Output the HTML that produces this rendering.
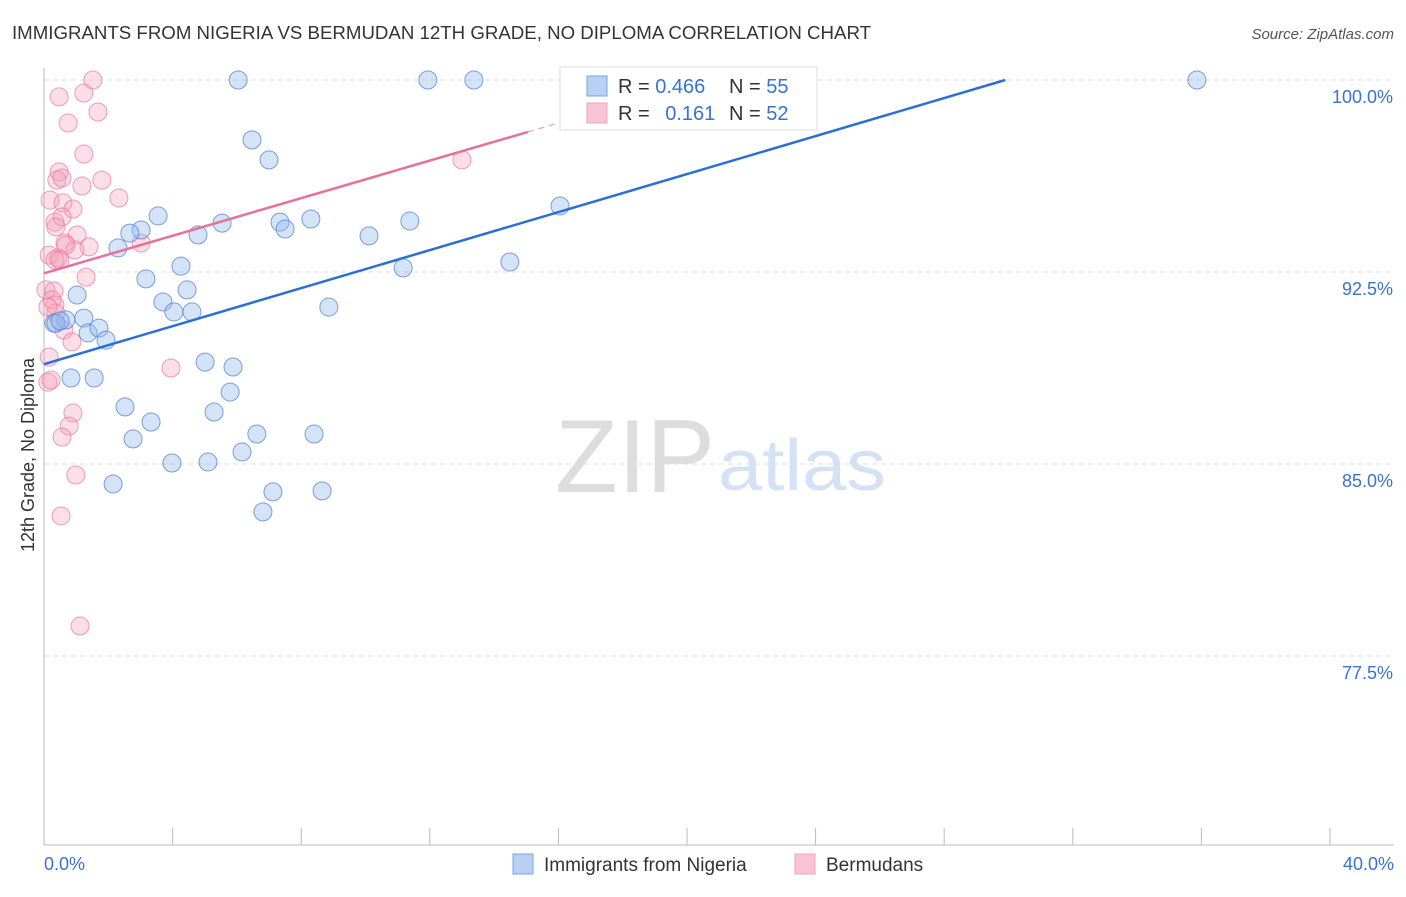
<!DOCTYPE html>
<html><head><meta charset="utf-8"><style>
body{margin:0;background:#fff;font-family:"Liberation Sans",sans-serif}
svg text{font-family:"Liberation Sans",sans-serif}
</style></head><body>
<svg id="chart" width="1406" height="892">
<text x="12" y="39" font-size="18" fill="#333" textLength="859" lengthAdjust="spacingAndGlyphs">IMMIGRANTS FROM NIGERIA VS BERMUDAN 12TH GRADE, NO DIPLOMA CORRELATION CHART</text>
<text x="1394" y="39" font-size="15" fill="#555" text-anchor="end" font-style="italic">Source: ZipAtlas.com</text>
<text x="34" y="455" font-size="18" fill="#333" text-anchor="middle" transform="rotate(-90 34 455)">12th Grade, No Diploma</text>
<g><text x="555" y="492" font-size="104" fill="#ddd" textLength="160" lengthAdjust="spacingAndGlyphs" font-family="Liberation Serif">ZIP</text><text x="718" y="490" font-size="72" fill="#d4e2f5" textLength="168" lengthAdjust="spacingAndGlyphs">atlas</text></g>
<g id="grid"></g><g id="axes"></g><g id="pts"></g><g id="lines"></g>
<g>
<rect x="560" y="67" width="257" height="63" fill="#fff" stroke="#ddd"/>
<rect x="587" y="76" width="20" height="20" fill="#b8d0f2" stroke="#7aa6e6"/>
<rect x="587" y="103" width="20" height="20" fill="#f8c4d4" stroke="#eea0b8"/>
<text x="618" y="93" font-size="20" fill="#333">R = <tspan fill="#3a72d0">0.466</tspan></text>
<text x="729" y="93" font-size="20" fill="#333">N = <tspan fill="#3a72d0">55</tspan></text>
<text x="618" y="120" font-size="20" fill="#333">R = <tspan fill="#3a72d0" dx="10">0.161</tspan></text>
<text x="729" y="120" font-size="20" fill="#333">N = <tspan fill="#3a72d0">52</tspan></text>
</g>
<g>
<rect x="513" y="854" width="20" height="20" fill="#b8d0f2" stroke="#7aa6e6"/>
<text x="544" y="871" font-size="19" fill="#333">Immigrants from Nigeria</text>
<rect x="795" y="854" width="20" height="20" fill="#f8c4d4" stroke="#eea0b8"/>
<text x="826" y="871" font-size="19" fill="#333">Bermudans</text>
</g>
</svg>
<script>
const xTicks=[0,4,8,12,16,20,24,28,32,36,40];
const yTicks=[100,92.5,85,77.5];
const yTickLabels=["100.0%","92.5%","85.0%","77.5%"];
const blueX=[6.04,11.94,13.37,16.67,35.86,6.47,7.0,3.55,5.54,7.34,8.3,7.5,3.02,2.67,4.79,11.38,10.11,2.3,16.05,4.26,11.17,14.49,3.17,3.7,4.45,1.03,4.04,4.6,8.86,0.31,0.68,1.24,1.37,1.71,1.93,5.01,5.88,0.84,1.56,5.79,2.52,5.29,3.33,2.77,6.62,8.4,6.16,3.98,5.1,2.15,7.12,8.65,6.81,0.37,0.5];
const blueY=[100,100,100,100,100,97.66,96.88,94.69,94.41,94.45,94.57,94.18,94.14,94.02,93.95,94.49,93.91,93.44,95.08,92.73,92.66,92.89,92.23,91.33,91.8,91.6,90.94,90.94,91.13,90.5,90.63,90.7,90.12,90.31,89.84,88.98,88.79,88.36,88.36,87.81,87.23,87.03,86.64,85.98,86.17,86.17,85.47,85.04,85.08,84.22,83.91,83.95,83.13,90.5,90.59];
const pinkX=[1.52,0.47,1.24,1.68,0.75,1.24,0.47,0.4,0.56,1.18,1.8,2.33,0.19,0.59,0.9,0.34,0.56,0.37,1.03,0.65,1.4,3.02,0.96,0.44,0.16,0.34,1.31,0.06,0.31,0.25,0.34,0.37,0.12,0.62,0.87,0.16,3.95,0.12,0.22,0.9,0.78,0.56,0.99,0.53,1.12,13.0,0.5,0.68];
const pinkY=[100,99.34,99.49,98.75,98.32,97.11,96.41,96.09,96.17,95.86,96.09,95.39,95.31,95.2,94.96,94.45,94.65,94.26,93.95,93.63,93.48,93.63,93.36,93.05,93.16,92.97,92.3,91.8,91.76,91.41,91.21,90.9,91.13,90.23,89.77,89.18,88.75,88.2,88.28,86.99,86.48,86.05,84.57,82.97,78.67,96.88,92.97,93.55];
const blueLine=[0,88.9,29.9,100];
const pinkLine=[0,92.45,15.05,97.97,16.95,98.67];
const X=v=>44+v*32.15, Y=v=>80+(100-v)*25.6;
const NS="http://www.w3.org/2000/svg";
function mk(t,a,p){const e=document.createElementNS(NS,t);for(const k in a)e.setAttribute(k,a[k]);p.appendChild(e);return e;}
const grid=document.getElementById('grid'),axes=document.getElementById('axes'),pts=document.getElementById('pts'),lines=document.getElementById('lines');
yTicks.forEach((v,i)=>{const l=mk('line',{x1:44,x2:1394,y1:Y(v),y2:Y(v),stroke:'#ddd','stroke-dasharray':'5,4'},grid);


const t=mk('text',{x:1393,y:Y(v)+23,'font-size':18,fill:'#3a72d0','text-anchor':'end'},axes);t.textContent=yTickLabels[i];

});
const ax=mk('line',{x1:44,x2:44,y1:68,y2:845,stroke:'#bbb'},axes);


const bx=mk('line',{x1:44,x2:1394,y1:845,y2:845,stroke:'#bbb'},axes);


xTicks.forEach(v=>{const t=mk('line',{x1:X(v),x2:X(v),y1:828,y2:845,stroke:'#bbb'},axes);

});
[[0,'0.0%','start',44],[40,'40.0%','end',1394]].forEach(a=>{const t=mk('text',{x:a[3],y:870,'font-size':18,fill:'#3a72d0','text-anchor':a[2]},axes);t.textContent=a[1];

});
pinkX.forEach((x,i)=>{const c=mk('circle',{cx:X(x),cy:Y(pinkY[i]),r:9,fill:'rgba(244,160,186,0.35)',stroke:'rgba(232,120,155,0.7)','stroke-width':1},pts);

});
blueX.forEach((x,i)=>{const c=mk('circle',{cx:X(x),cy:Y(blueY[i]),r:9,fill:'rgba(150,185,235,0.4)',stroke:'rgba(80,130,215,0.75)','stroke-width':1},pts);

});
const bl=mk('line',{x1:X(blueLine[0]),y1:Y(blueLine[1]),x2:X(blueLine[2]),y2:Y(blueLine[3]),stroke:'#2a6fd6','stroke-width':2.5},lines);


const pl=mk('line',{x1:X(pinkLine[0]),y1:Y(pinkLine[1]),x2:X(pinkLine[2]),y2:Y(pinkLine[3]),stroke:'#e8719a','stroke-width':2.5},lines);


const pd=mk('line',{x1:X(pinkLine[2]),y1:Y(pinkLine[3]),x2:X(pinkLine[4]),y2:Y(pinkLine[5]),stroke:'#e8a0b8','stroke-width':1.2,'stroke-dasharray':'6,5'},lines);


</script>
</body></html>
